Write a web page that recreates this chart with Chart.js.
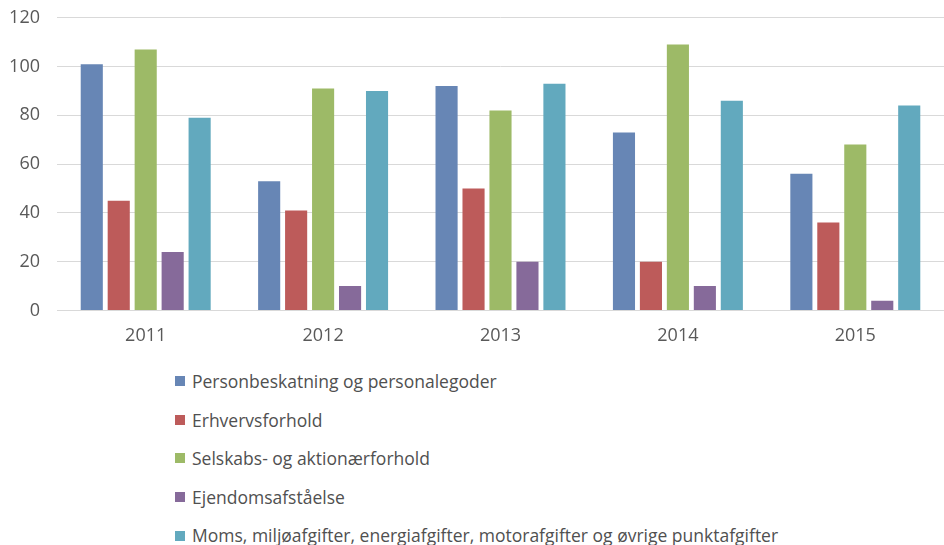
<!DOCTYPE html>
<html>
<head>
<meta charset="utf-8">
<script src="https://cdn.jsdelivr.net/npm/chart.js@4.4.0/dist/chart.umd.min.js"></script>
<style>
    body { margin: 0; background: #fff; font-family: "Open Sans", sans-serif; overflow: hidden; }
    #wrap { position: relative; width: 944px; height: 372px; margin-top: -10px; }
    #legend { margin: 0; padding: 0 0 0 175px; list-style: none; }
    #legend li { height: 38.6px; line-height: 38.6px; font-size: 17.5px; color: #505050; display: flex; align-items: center; }
    #legend span.box { display: inline-block; width: 10px; height: 10px; margin-right: 7px; }
</style>
</head>
<body>
<div id="wrap"><canvas id="chart"></canvas></div>
<ul id="legend"></ul>
<script>
// categories and series
var years = ["2011", "2012", "2013", "2014", "2015"];
var seriesNames = [
    "Personbeskatning og personalegoder",
    "Erhvervsforhold",
    "Selskabs- og aktionærforhold",
    "Ejendomsafståelse",
    "Moms, miljøafgifter, energiafgifter, motorafgifter og øvrige punktafgifter"
];
var person = [101, 53, 92, 73, 56];
var erhverv = [45, 41, 50, 20, 36];
var selskab = [107, 91, 82, 109, 68];
var ejendom = [24, 10, 20, 10, 4];
var moms = [79, 90, 93, 86, 84];
var yTicks = [0, 20, 40, 60, 80, 100, 120];

var colors = ["#6786b5", "#bd5b5a", "#9dba67", "#866a9a", "#62a9be"];
var values = [person, erhverv, selskab, ejendom, moms];

var datasets = seriesNames.map(function(name, i) {
    return {
        label: name,
        data: values[i],
        backgroundColor: colors[i],
        categoryPercentage: 0.76,
        barPercentage: 0.82
    };
});

// html legend, one item per line
var htmlLegend = {
    id: "htmlLegend",
    afterUpdate: function(chart) {
        var ul = document.getElementById("legend");
        ul.innerHTML = "";
        chart.data.datasets.forEach(function(ds) {
            var li = document.createElement("li");
            var box = document.createElement("span");
            box.className = "box";
            box.style.background = ds.backgroundColor;
            li.appendChild(box);
            li.appendChild(document.createTextNode(ds.label));
            ul.appendChild(li);
        });
    }
};

var chart = new Chart(document.getElementById("chart"), {
    type: "bar",
    data: { labels: years, datasets: datasets },
    plugins: [htmlLegend],
    options: {
        responsive: true,
        maintainAspectRatio: false,
        animation: false,
        layout: { padding: { top: 0, left: 0, right: 0, bottom: 0 } },
        plugins: {
            legend: { display: false },
            tooltip: { enabled: false }
        },
        scales: {
            x: {
                grid: { display: false, drawTicks: false },
                border: { color: "#d9d9d9" },
                ticks: { color: "#595959", font: { family: "Open Sans", size: 18 }, padding: 15 }
            },
            y: {
                min: 0,
                max: 120,
                afterBuildTicks: function(axis) {
                    axis.ticks = yTicks.map(function(v) { return { value: v }; });
                },
                afterFit: function(axis) { axis.width = 57; },
                grid: { color: "#d9d9d9", drawTicks: false },
                border: { display: false },
                ticks: { color: "#595959", font: { family: "Open Sans", size: 18 }, padding: 17 }
            }
        }
    }
});
</script>
</body>
</html>
